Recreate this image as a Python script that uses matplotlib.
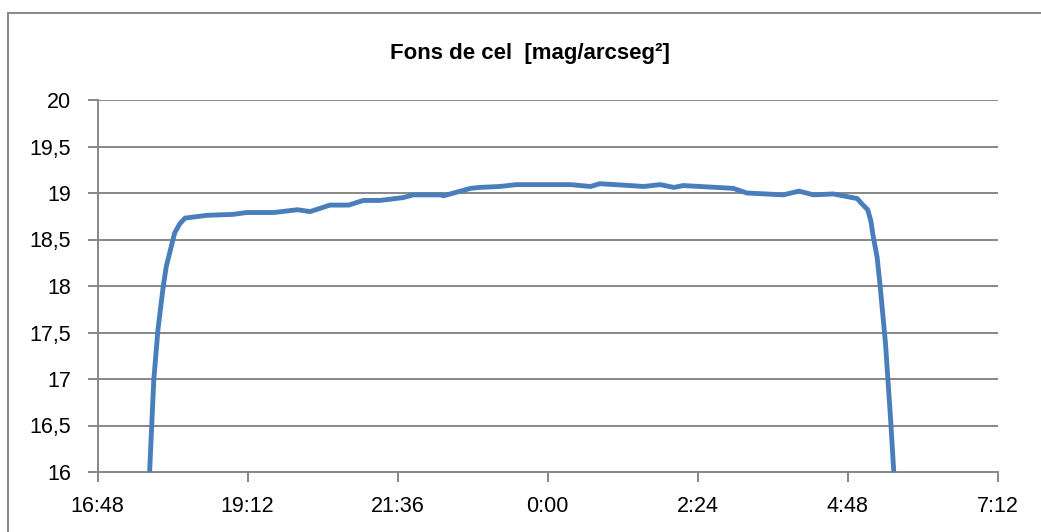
import numpy as np
import matplotlib
matplotlib.use("Agg")
from matplotlib import pyplot as plt
from matplotlib.patches import Rectangle

plt.rcParams["font.family"] = ["Liberation Sans", "DejaVu Sans"]

# clock times (evening -> next morning) and sky background in mag/arcsec^2
times = ["17:38", "17:42", "17:46", "17:51", "17:54", "17:58", "18:02", "18:07",
         "18:12", "18:33", "18:58", "19:11", "19:37", "20:00", "20:12", "20:31",
         "20:49", "21:03", "21:19", "21:41", "21:51", "22:17", "22:20", "22:46",
         "22:55", "23:14", "23:30", "23:59", "0:22", "0:41", "0:50", "1:19",
         "1:32", "1:48", "2:01", "2:10", "2:58", "3:11", "3:46", "4:01",
         "4:15", "4:34", "4:57", "5:00", "5:07", "5:10", "5:12", "5:16",
         "5:19", "5:24", "5:29", "5:32"]
values = [16.00, 16.99, 17.53, 17.99, 18.21, 18.39, 18.57, 18.67,
          18.73, 18.76, 18.77, 18.79, 18.79, 18.82, 18.80, 18.87,
          18.87, 18.92, 18.92, 18.95, 18.98, 18.98, 18.97, 19.05,
          19.06, 19.07, 19.09, 19.09, 19.09, 19.07, 19.10, 19.08,
          19.07, 19.09, 19.06, 19.08, 19.05, 19.00, 18.98, 19.02,
          18.98, 18.99, 18.94, 18.90, 18.82, 18.70, 18.55, 18.31,
          17.99, 17.39, 16.56, 16.00]

tick_labels = ["16:48", "19:12", "21:36", "0:00", "2:24", "4:48", "7:12"]
y_ticks = [16, 16.5, 17, 17.5, 18, 18.5, 19, 19.5, 20]


def to_hours(s):
    # hours after midnight of the first day, wrapping past 24
    h, m = s.split(":")
    v = int(h) + int(m) / 60.0
    if v < 12:
        v += 24
    return v


x = np.array([to_hours(t) for t in times])
y = np.array(values)
xt = [to_hours(t) for t in tick_labels]

fig = plt.figure(figsize=(10.41, 5.32), dpi=100)
ax = fig.add_axes([97.5 / 1041, 1 - 472 / 532, (998 - 97.5) / 1041, (472 - 100) / 532])

grey = "#878787"
for v in y_ticks[1:]:
    ax.axhline(v, color=grey, lw=1.4, zorder=1)

ax.plot(x, y, color="#4A7EBB", lw=3.5, solid_capstyle="butt", solid_joinstyle="round",
        zorder=3, clip_on=False)

ax.set_xlim(xt[0], xt[-1])
ax.set_ylim(16, 20)
ax.set_xticks(xt)
ax.set_xticklabels(tick_labels)
ax.set_yticks(y_ticks)
ax.set_yticklabels([("%g" % v).replace(".", ",") for v in y_ticks])
ax.tick_params(axis="both", colors=grey, labelcolor="black", labelsize=15.5,
               length=7, width=1.4)
ax.tick_params(axis="y", pad=12)
ax.tick_params(axis="x", pad=10)

for side in ["top", "right"]:
    ax.spines[side].set_visible(False)
for side in ["left", "bottom"]:
    ax.spines[side].set_color(grey)
    ax.spines[side].set_linewidth(1.4)

fig.text(0.5095, 1 - 53 / 532, "Fons de cel  [mag/arcseg²]", ha="center", va="center",
         fontsize=16, fontweight="bold")

# outer chart border
fig.patches.append(Rectangle((8 / 1041, -0.2), 1.2, 1.2 - 13 / 532, transform=fig.transFigure,
                             fill=False, edgecolor=grey, lw=1.4))

fig.savefig("out.png", dpi=100)
